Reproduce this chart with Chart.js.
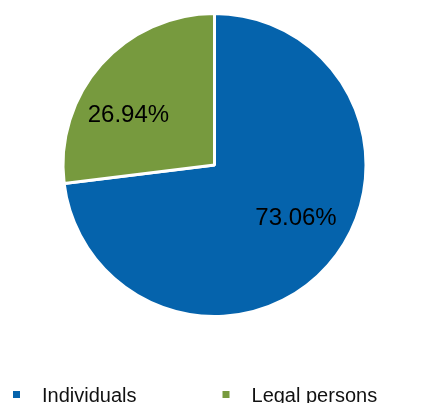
<!DOCTYPE html>
<html>
<head>
<meta charset="utf-8">
<script src="https://cdn.jsdelivr.net/npm/chart.js@4"></script>
<style>
    html, body { margin: 0; padding: 0; background: #fff; overflow: hidden; }
    #wrap { width: 427px; height: 420px; position: relative; }
</style>
</head>
<body>
<div id="wrap"><canvas id="ownersChart"></canvas></div>
<script>
    const categories = ['Individuals', 'Legal persons'];
    const shares = [73.06, 26.94];
    const sliceColors = ['#0563ac', '#779a3e'];
    // label positions as fraction of the radius (dx, dy) from the centre
    const labelOffsets = [[0.538, 0.345], [-0.568, -0.334]];

    const sliceLabels = {
        id: 'sliceLabels',
        afterDatasetsDraw(chart) {
            const ctx = chart.ctx;
            const arcs = chart.getDatasetMeta(0).data;
            ctx.save();
            ctx.font = '24px "Liberation Sans", Arial, sans-serif';
            ctx.fillStyle = '#000';
            ctx.textAlign = 'center';
            ctx.textBaseline = 'middle';
            arcs.forEach(function (arc, i) {
                const r = arc.outerRadius;
                const x = arc.x + labelOffsets[i][0] * r;
                const y = arc.y + labelOffsets[i][1] * r;
                ctx.fillText(shares[i].toFixed(2) + '%', x, y + 1);
            });
            ctx.restore();
        }
    };

    const bottomLegend = {
        id: 'bottomLegend',
        afterDraw(chart) {
            const ctx = chart.ctx;
            ctx.save();
            ctx.font = '20px "Liberation Sans", Arial, sans-serif';
            ctx.textBaseline = 'alphabetic';
            let x = 13;
            categories.forEach(function (name, i) {
                ctx.fillStyle = sliceColors[i];
                ctx.fillRect(x, 391, 7, 7);
                ctx.fillStyle = '#111';
                ctx.fillText(name, x + 29, 402);
                x += 29 + ctx.measureText(name).width + 86;
            });
            ctx.restore();
        }
    };

    new Chart(document.getElementById('ownersChart').getContext('2d'), {
        type: 'pie',
        data: {
            labels: categories,
            datasets: [{
                data: shares,
                backgroundColor: sliceColors,
                borderColor: '#ffffff',
                borderWidth: 3
            }]
        },
        options: {
            responsive: true,
            maintainAspectRatio: false,
            animation: false,
            layout: { padding: { top: 12, bottom: 102, left: 2, right: 0 } },
            plugins: {
                legend: { display: false },
                tooltip: { enabled: false }
            }
        },
        plugins: [sliceLabels, bottomLegend]
    });
</script>
</body>
</html>
